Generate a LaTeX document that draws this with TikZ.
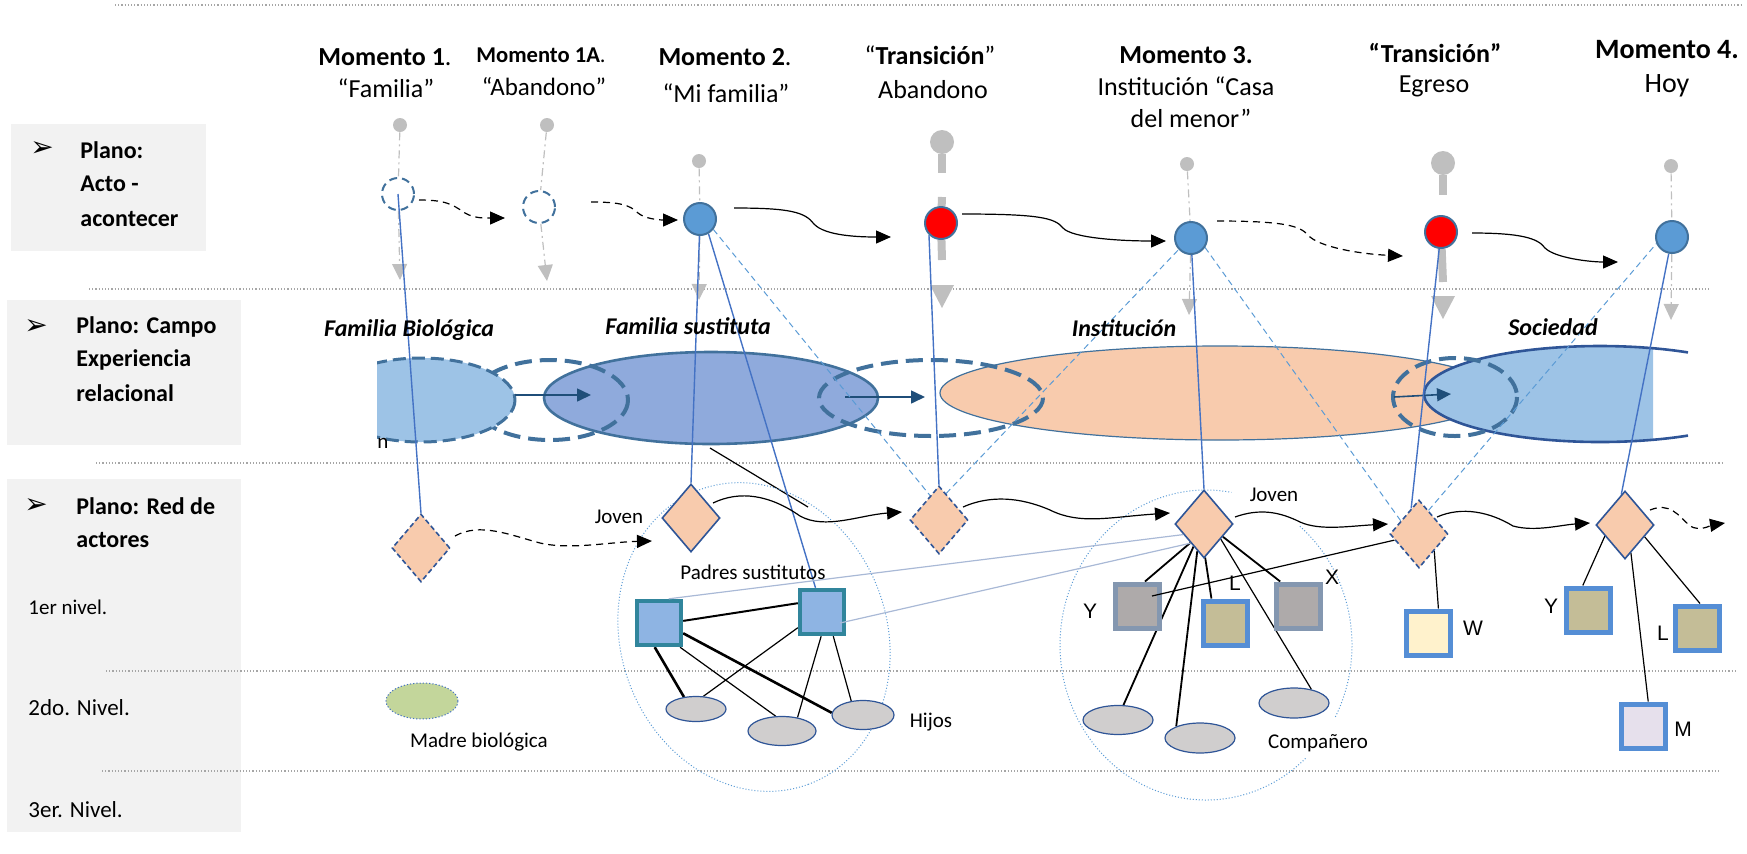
\documentclass[tikz,border=0pt]{standalone}
\usepackage{fontspec}
\setmainfont{Carlito}
\setsansfont{Liberation Sans}
\newfontfamily\dejavu{DejaVu Sans}
\usetikzlibrary{shapes.geometric,arrows.meta,calc}
\definecolor{caja}{HTML}{F2F2F2}
\definecolor{azulsuceso}{HTML}{5B9BD5}
\definecolor{bordeazul}{HTML}{41719C}
\definecolor{azuloscuro}{HTML}{2F5597}
\definecolor{azullinea}{HTML}{4472C4}
\definecolor{flechaazul}{HTML}{1F4E79}
\definecolor{celeste}{HTML}{9DC3E6}
\definecolor{lavanda}{HTML}{8FAADC}
\definecolor{salmon}{HTML}{F8CBAD}
\definecolor{grisalfiler}{HTML}{BFBFBF}
\definecolor{verdeazul}{HTML}{31859C}
\definecolor{padre}{HTML}{8EB4E3}
\definecolor{grisactor}{HTML}{AEAAAA}
\definecolor{bordegris}{HTML}{8497B0}
\definecolor{bordeactor}{HTML}{558ED5}
\definecolor{kaki}{HTML}{C4BD97}
\definecolor{crema}{HTML}{FFF2CC}
\definecolor{lila}{HTML}{E6E0EC}
\definecolor{grishijo}{HTML}{D0CECE}
\definecolor{verdemadre}{HTML}{C3D69B}
\definecolor{palido}{HTML}{A9B9D6}
\pgfdeclarelayer{fondo}
\pgfdeclarelayer{lineas}
\pgfsetlayers{fondo,lineas,main}
\tikzset{
  titulo/.style={font={\fontsize{13}{15}\selectfont\bfseries}, inner sep=0pt},
  subtitulo/.style={font={\fontsize{13}{15}\selectfont}, inner sep=0pt},
  planotexto/.style={font={\fontsize{12}{14}\selectfont\bfseries}, anchor=west, inner sep=0pt},
  nivel/.style={font={\fontsize{11.5}{13}\selectfont}, anchor=west, inner sep=0pt},
  campo/.style={font={\fontsize{12}{14}\selectfont\bfseries\itshape}, inner sep=0pt},
  etiqueta/.style={font={\fontsize{10.5}{12}\selectfont}, inner sep=0pt},
  letra/.style={font={\sffamily\fontsize{10.5}{12}\selectfont}, inner sep=0pt},
  vineta/.style={font={\dejavu\fontsize{14}{16}\selectfont}, inner sep=0pt},
  suceso/.style={circle, draw=bordeazul, fill=azulsuceso, line width=1pt, minimum size=16pt, inner sep=0pt},
  transicion/.style={suceso, fill=red},
  previo/.style={circle, draw=bordeazul, dash pattern=on 4pt off 2.5pt, line width=1pt, minimum size=16pt, inner sep=0pt},
  punto/.style={circle, fill=grisalfiler, minimum size=7pt, inner sep=0pt},
  cabeza/.style={circle, fill=grisalfiler, minimum size=12pt, inner sep=0pt},
  tallo/.style={grisalfiler, line width=4pt},
  hilo/.style={grisalfiler, line width=0.6pt, dash pattern=on 4pt off 2pt on 1pt off 2pt},
  guia/.style={hilo, -{Triangle[length=8pt,width=7.5pt]}},
  rombo/.style={diamond, draw=azuloscuro, fill=salmon, line width=0.8pt, minimum width=29pt, minimum height=34pt, inner sep=0pt},
  rombopaso/.style={rombo, dash pattern=on 2.5pt off 1.5pt},
  actor/.style={rectangle, draw=bordeactor, line width=2.5pt, minimum size=22pt, inner sep=0pt},
  padres/.style={actor, draw=verdeazul, fill=padre, line width=2.2pt},
  hijo/.style={ellipse, draw=azuloscuro, fill=grishijo, line width=0.6pt, inner sep=0pt},
  vinculo/.style={line width=0.6pt},
  vinculofuerte/.style={line width=1.3pt},
  enlace/.style={azullinea, line width=0.7pt},
  enlacetenue/.style={azulsuceso, line width=0.5pt, dash pattern=on 3pt off 2pt},
  pasa/.style={-{Triangle[length=7.5pt,width=6.5pt]}, line width=0.6pt},
  discontinuo/.style={dash pattern=on 3.5pt off 2.5pt},
  flechacampo/.style={flechaazul, line width=0.8pt, -{Triangle[length=7pt,width=6.5pt]}},
  separa/.style={gray!70, line width=0.6pt, densely dotted},
  previsto/.style={bordeazul, line width=2pt, dash pattern=on 8.5pt off 4pt},
  redpunteada/.style={azulsuceso, line width=0.5pt, densely dotted},
}
\begin{document}
\begin{tikzpicture}[x=0.5pt,y=-0.5pt]
\useasboundingbox (0,0) rectangle (1747,853);
% fondo: cajas, separadores y campos
\begin{pgfonlayer}{fondo}
  \fill[caja] (11,124) rectangle (206,251);
  \fill[caja] (7,300) rectangle (241,445);
  \fill[caja] (7,479) rectangle (241,832);
  \draw[separa] (115,5) -- (1742,5);
  \draw[separa] (89,289) -- (1710,289);
  \draw[separa] (96,463) -- (1722,463);
  \draw[separa] (106,671) -- (1737,671);
  \draw[separa] (102,771) -- (1720,771);
  \draw[bordeazul, line width=0.6pt, fill=salmon] (1220,393) ellipse [x radius=280, y radius=47];
  \begin{scope}
    \clip (1400,300) rectangle (1653,460);
    \fill[celeste] (1600,394) ellipse [x radius=176, y radius=48];
  \end{scope}
  \draw[azuloscuro, line width=1.3pt] (1600,394) ++(60:176 and 48) arc[start angle=60, end angle=300, x radius=176, y radius=48];
  \draw[bordeazul, line width=1.3pt, fill=lavanda] (711,398) ellipse [x radius=167, y radius=46];
  \draw[previsto] (550,400) ellipse [x radius=78, y radius=40];
  \begin{scope}
    \clip (377,300) rectangle (600,460);
    \fill[celeste] (421,400) ellipse [x radius=94, y radius=42];
    \draw[bordeazul, line width=1.5pt, dash pattern=on 6.5pt off 3pt] (421,400) ellipse [x radius=94, y radius=42];
  \end{scope}
  \draw[previsto] (931,398) ellipse [x radius=112, y radius=38];
  \draw[previsto] (1455,397) ellipse [x radius=62, y radius=39];
  \draw[flechacampo] (515,395) -- (591,395);
  \draw[flechacampo] (845,397) -- (925,397);
  \draw[flechacampo] (1394,397) -- (1451,394);
  \draw[vinculo] (710,448) -- (808,507);
\end{pgfonlayer}

% planos
\node[vineta] (vin1) at (42,149) {➢};
\node[planotexto] (acto1) at (80,150) {Plano:};
\node[planotexto] (acto2) at (80,184) {Acto -};
\node[planotexto] (acto3) at (80,219) {acontecer};
\node[vineta] (vin2) at (36,327) {➢};
\node[planotexto] (campo1) at (76,327) {Plano: Campo};
\node[planotexto] (campo2) at (76,360) {Experiencia};
\node[planotexto] (campo3) at (76,393) {relacional};
\node[vineta] (vin3) at (36,506) {➢};
\node[planotexto] (red1) at (76,506) {Plano: Red de};
\node[planotexto] (red2) at (76,540) {actores};
\node[nivel, font={\fontsize{10.5}{12}\selectfont}] (niv1) at (28,607) {1er nivel.};
\node[nivel] (niv2) at (28,708) {2do. Nivel.};
\node[nivel] (niv3) at (28,810) {3er. Nivel.};

% momentos
\node[titulo] (m1) at (385,57) {Momento 1\textmd{.}};
\node[subtitulo] (m1b) at (386,88) {“Familia”};
\node[titulo, font={\fontsize{11.3}{13}\selectfont\bfseries}] (m1a) at (541,55) {Momento 1A\textmd{.}};
\node[subtitulo, font={\fontsize{12.5}{14}\selectfont}] (m1ab) at (544,87) {“Abandono”};
\node[titulo] (m2) at (725,57) {Momento 2\textmd{.}};
\node[subtitulo] (m2b) at (726,93) {“Mi familia”};
\node[titulo] (tr1) at (930,55) {\textmd{“}Transición\textmd{”}};
\node[subtitulo] (tr1b) at (933,90) {Abandono};
\node[titulo] (m3) at (1186,55) {Momento 3.};
\node[subtitulo] (m3b) at (1186,86) {Institución “Casa};
\node[subtitulo] (m3c) at (1191,118) {del menor”};
\node[titulo] (tr2) at (1435,53) {“Transición”};
\node[subtitulo] (tr2b) at (1434,86) {Egreso};
\node[titulo, font={\fontsize{14}{16}\selectfont\bfseries}] (m4) at (1667,50) {Momento 4.};
\node[subtitulo, font={\fontsize{14}{16}\selectfont}] (m4b) at (1667,86) {Hoy};

% plano acto
\node[punto] (g1) at (400,125) {};
\node[punto] (g1a) at (547,125) {};
\node[punto] (g2) at (699,161) {};
\node[punto] (g3) at (1187,164) {};
\node[punto] (g4) at (1671,166) {};
\node[cabeza] (cab1) at (942,142) {};
\node[cabeza] (cab2) at (1443,163) {};
\node[previo] (d1) at (398,194) {};
\node[previo] (d1a) at (539,207) {};
\node[suceso] (e2) at (700,219) {};
\node[transicion] (t1) at (941,223) {};
\node[suceso] (e3) at (1191,238) {};
\node[transicion] (t2) at (1441,232) {};
\node[suceso] (e4) at (1672,237) {};
\coordinate (f1) at (400,280);
\coordinate (f1a) at (547,281);
\coordinate (f2) at (699,300);
\coordinate (f3) at (1189,315);
\coordinate (f4) at (1671,320);
\coordinate (salida) at (1725,523);

% campos
\node[campo] (cfb) at (409,330) {Familia Biológica};
\node[campo] (cfs) at (688,326) {Familia sustituta};
\node[campo] (cin) at (1124,328) {Institución};
\node[campo] (cso) at (1553,327) {Sociedad};
\node[etiqueta] (frag) at (383,443) {n};

% red de actores
\node[rombopaso] (j1) at (421,548) {};
\node[rombo] (j2) at (691,518) {};
\node[rombopaso] (tj1) at (939,520) {};
\node[rombo] (j3) at (1204,524) {};
\node[rombopaso] (tj2) at (1419,534) {};
\node[rombo] (j4) at (1625,525) {};
\node[padres] (pa1) at (659,623) {};
\node[padres] (pa2) at (822,612) {};
\node[actor, draw=bordegris, fill=grisactor] (y3) at (1137,606) {};
\node[actor, fill=kaki] (l3) at (1225,623) {};
\node[actor, draw=bordegris, fill=grisactor] (x3) at (1298,606) {};
\node[actor, fill=crema] (w) at (1428,633) {};
\node[actor, fill=kaki] (y4) at (1588,610) {};
\node[actor, fill=kaki] (l4) at (1697,628) {};
\node[actor, fill=lila] (m) at (1643,726) {};
\node[hijo, minimum width=30pt, minimum height=12.5pt] (h1) at (696,709) {};
\node[hijo, minimum width=34pt, minimum height=14.5pt] (h2) at (782,731) {};
\node[hijo, minimum width=31pt, minimum height=14.5pt] (h3) at (863,715) {};
\node[hijo, minimum width=35pt, minimum height=14.5pt] (co1) at (1118,720) {};
\node[hijo, minimum width=35pt, minimum height=15pt] (co2) at (1200,738) {};
\node[hijo, minimum width=35pt, minimum height=15pt] (co3) at (1294,703) {};
\node[hijo, fill=verdemadre, draw=azullinea, densely dotted, line width=0.5pt, minimum width=36pt, minimum height=18pt] (mb) at (422,701) {};

\node[etiqueta] (lj2) at (619,517) {Joven};
\node[etiqueta] (lps) at (753,572) {Padres sustitutos};
\node[etiqueta] (lj3) at (1274,495) {Joven};
\node[etiqueta] (lhi) at (931,722) {Hijos};
\node[etiqueta] (lco) at (1318,743) {Compañero};
\node[etiqueta] (lmb) at (479,742) {Madre biológica};
\node[letra] (ly3) at (1090,611) {Y};
\node[letra] (ll3) at (1235,583) {L};
\node[letra] (lx3) at (1332,577) {X};
\node[letra] (lw) at (1473,628) {W};
\node[letra] (ly4) at (1551,606) {Y};
\node[letra] (ll4) at (1663,633) {L};
\node[letra] (lm) at (1683,729) {M};

% conectores
\begin{pgfonlayer}{lineas}
  \draw[hilo] (g1) -- (d1);
  \draw[guia] (d1) -- (f1);
  \draw[hilo] (g1a) -- (d1a);
  \draw[guia] (d1a) -- (f1a);
  \draw[hilo] (g2) -- (e2);
  \draw[guia] (e2) -- (f2);
  \draw[hilo] (g3) -- (e3);
  \draw[guia] (e3) -- (f3);
  \draw[hilo] (g4) -- (e4);
  \draw[guia] (e4) -- (f4);
  \draw[tallo] (cab1) -- (942,173);
  \draw[tallo] (942,197) -- (t1);
  \draw[tallo] (t1) -- (942,260);
  \fill[grisalfiler] (930,285) -- (954,285) -- (942,308) -- cycle;
  \draw[tallo] (cab2) -- (1443,195);
  \draw[tallo] (t2) -- (1443,282);
  \fill[grisalfiler] (1431,296) -- (1455,296) -- (1443,319) -- cycle;

  \draw[pasa, discontinuo] ($(d1)+(21,6)$) .. controls (445,200) and (452,204) .. (465,213) .. controls (475,219) and (488,218) .. ($(d1a)+(-34,11)$);
  \draw[pasa, discontinuo] ($(d1a)+(52,-5)$) .. controls (620,202) and (630,205) .. (638,213) .. controls (645,219) and (660,220) .. ($(e2)+(-22,1)$);
  \draw[pasa] ($(e2)+(34,-11)$) .. controls (790,208) and (805,212) .. (814,224) .. controls (825,236) and (860,237) .. ($(t1)+(-50,14)$);
  \draw[pasa] ($(t1)+(21,-9)$) .. controls (1040,214) and (1055,218) .. (1063,228) .. controls (1072,238) and (1120,241) .. ($(e3)+(-25,3)$);
  \draw[pasa, discontinuo] ($(e3)+(26,-17)$) .. controls (1285,221) and (1300,226) .. (1308,235) .. controls (1318,247) and (1360,254) .. ($(t2)+(-38,24)$);
  \draw[pasa] ($(t2)+(31,1)$) .. controls (1520,233) and (1538,238) .. (1545,248) .. controls (1555,258) and (1590,262) .. ($(e4)+(-54,25)$);

  \draw[redpunteada, rotate around={-69.7:(754,637)}] (754,637) ellipse [x radius=157, y radius=133];
  \draw[redpunteada] (1206,645) ++(-50:146 and 155) arc[start angle=-50, end angle=28, x radius=146, y radius=155];
  \draw[redpunteada] (1206,645) ++(47:146 and 155) arc[start angle=47, end angle=280, x radius=146, y radius=155];

  \draw[enlace] (d1.center) -- (j1.north);
  \draw[enlace] (e2) -- (j2.north);
  \draw[enlace] (e2.-60) -- (pa2.105);
  \draw[enlacetenue] (e2.-38) -- (tj1.110);
  \draw[enlace] (t1.-135) -- (tj1.north);
  \draw[enlacetenue] (tj1.75) -- (e3.-137);
  \draw[enlace] (e3) -- (j3.north);
  \draw[enlacetenue] (e3.-34) -- (tj2.144);
  \draw[enlace] (t2) -- (tj2.107);
  \draw[enlacetenue] (tj2.68) -- (e4.-157);
  \draw[enlace] (e4) -- (j4.97);

  \draw[line width=1pt] (pa1.5) -- (pa2.160);
  \draw[vinculofuerte] (pa1.-23) -- (h3.176);
  \draw[vinculofuerte] (pa1.-100) -- (h1.135);
  \draw[vinculo] (pa1.-49) -- (h2.113);
  \draw[vinculo] (pa2.-147) -- (h1.60);
  \draw[vinculo] (pa2.-92) -- (h2.41);
  \draw[vinculo] (pa2.-65) -- (h3.130);
  \draw[line width=0.9pt] (j3.-126) -- (y3.72);
  \draw[line width=0.9pt] (j3.-115) -- (co1.70);
  \draw[line width=0.9pt] (j3.-104) -- (co2.154);
  \draw[line width=0.9pt] (j3.-88) -- (l3.119);
  \draw[vinculo] (j3.-42) -- (co3.38);
  \draw[line width=0.9pt] (j3.-34) -- (x3.126);
  \draw[vinculo] (tj2.-48) -- (w.67);
  \draw[vinculo] (j4.-151) -- (y4.102);
  \draw[vinculo] (j4.-31) -- (l4.83);
  \draw[vinculo] (j4.-78) -- (m.78);

  \draw[pasa, discontinuo] ($(j1)+(34,-12)$) .. controls (480,522) and (510,535) .. (540,543) .. controls (570,550) and (610,542) .. ($(j2)+(-39,23)$);
  \draw[pasa] ($(j2)+(22,-15)$) .. controls (740,490) and (770,495) .. (800,516) .. controls (825,530) and (860,515) .. ($(tj1)+(-37,-8)$);
  \draw[pasa] ($(tj1)+(24,-13)$) .. controls (990,495) and (1020,497) .. (1050,510) .. controls (1080,525) and (1110,517) .. ($(j3)+(-34,-11)$);
  \draw[pasa] ($(j3)+(31,-7)$) .. controls (1260,508) and (1280,512) .. (1300,522) .. controls (1320,531) and (1350,526) .. ($(tj2)+(-31,-10)$);
  \draw[pasa] ($(tj2)+(18,-17)$) .. controls (1462,506) and (1490,512) .. (1513,526) .. controls (1535,532) and (1560,525) .. ($(j4)+(-35,-2)$);
  \draw[pasa, discontinuo] ($(j4)+(25,-15)$) .. controls (1670,502) and (1678,515) .. (1690,526) .. controls (1700,532) and (1712,525) .. (salida);
\end{pgfonlayer}

% encima de los actores
\draw[palido, line width=0.6pt] (pa1.68) -- (j3.-153);
\draw[palido, line width=0.6pt] ($(pa2)+(18,11)$) -- (j3.-125);
\draw[vinculo] ($(y3)+(15,-10)$) -- (tj2.-166);
\end{tikzpicture}
\end{document}
